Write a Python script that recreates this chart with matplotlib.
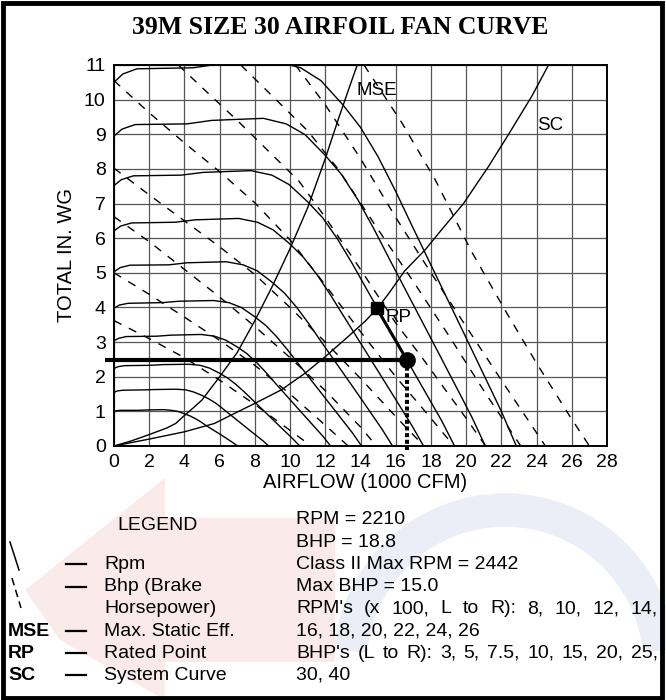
import matplotlib
matplotlib.use("Agg")
import matplotlib.pyplot as plt
from matplotlib.patches import Polygon, Rectangle, Arc
from matplotlib.lines import Line2D

W, H = 666, 700

# ---------------- data ----------------
x_ticks = list(range(0, 29, 2))
y_ticks = list(range(0, 12))

# fan curves (airflow in 1000 cfm, total pressure in. wg), one per rpm
q_2600 = [0, 0.5, 1.3, 4.5, 6.0, 9.2, 10.6, 11.75, 13.0, 14.0, 15.0, 16.0, 17.0, 20.0, 22.0, 22.85]
p_2600 = [10.5, 10.74, 10.89, 10.92, 11.03, 11.1, 10.92, 10.55, 9.85, 9.2, 8.35, 7.35, 6.28, 3.12, 1.0, 0]
q_2400 = [0, 0.46, 1.2, 4.15, 5.54, 8.49, 9.78, 10.85, 12.0, 12.92, 13.85, 14.77, 15.69, 18.46, 20.31, 21.09]
p_2400 = [8.95, 9.15, 9.28, 9.30, 9.40, 9.46, 9.30, 8.99, 8.39, 7.84, 7.11, 6.26, 5.35, 2.66, 0.85, 0]
q_2200 = [0, 0.42, 1.10, 3.81, 5.08, 7.78, 8.97, 9.94, 11.0, 11.85, 12.69, 13.54, 14.38, 16.92, 18.62, 19.34]
p_2200 = [7.52, 7.69, 7.80, 7.82, 7.90, 7.95, 7.82, 7.55, 7.05, 6.59, 5.98, 5.26, 4.50, 2.23, 0.72, 0]
q_2000 = [0, 0.38, 1.0, 3.46, 4.62, 7.08, 8.15, 9.04, 10.0, 10.77, 11.54, 12.31, 13.08, 15.38, 16.92, 17.58]
p_2000 = [6.21, 6.35, 6.44, 6.46, 6.53, 6.57, 6.46, 6.24, 5.83, 5.44, 4.94, 4.35, 3.72, 1.85, 0.59, 0]
q_1800 = [0, 0.35, 0.90, 3.12, 4.15, 6.37, 7.34, 8.13, 9.0, 9.69, 10.38, 11.08, 11.77, 13.85, 15.23, 15.82]
p_1800 = [5.03, 5.15, 5.22, 5.23, 5.29, 5.32, 5.23, 5.06, 4.72, 4.41, 4.00, 3.52, 3.01, 1.50, 0.48, 0]
q_1600 = [0, 0.31, 0.80, 2.77, 3.69, 5.66, 6.52, 7.23, 8.0, 8.62, 9.23, 9.85, 10.46, 12.31, 13.54, 14.06]
p_1600 = [3.98, 4.07, 4.12, 4.14, 4.18, 4.20, 4.14, 4.00, 3.73, 3.48, 3.16, 2.78, 2.38, 1.18, 0.38, 0]
q_1400 = [0, 0.27, 0.70, 2.42, 3.23, 4.95, 5.71, 6.33, 7.0, 7.54, 8.08, 8.62, 9.15, 10.77, 11.85, 12.30]
p_1400 = [3.04, 3.11, 3.16, 3.17, 3.20, 3.22, 3.17, 3.06, 2.86, 2.67, 2.42, 2.13, 1.82, 0.90, 0.29, 0]
q_1200 = [0, 0.23, 0.60, 2.08, 2.77, 4.25, 4.89, 5.42, 6.0, 6.46, 6.92, 7.38, 7.85, 9.23, 10.15, 10.55]
p_1200 = [2.24, 2.29, 2.32, 2.33, 2.35, 2.36, 2.33, 2.25, 2.10, 1.96, 1.78, 1.57, 1.34, 0.66, 0.21, 0]
q_1000 = [0, 0.19, 0.50, 1.73, 2.31, 3.54, 4.08, 4.52, 5.0, 5.38, 5.77, 6.15, 6.54, 7.69, 8.46, 8.79]
p_1000 = [1.55, 1.59, 1.61, 1.62, 1.63, 1.64, 1.62, 1.56, 1.46, 1.36, 1.24, 1.09, 0.93, 0.46, 0.15, 0]
q_800 = [0, 0.15, 0.40, 1.38, 1.85, 2.83, 3.26, 3.62, 4.0, 4.31, 4.62, 4.92, 5.23, 6.15, 6.77, 7.03]
p_800 = [0.99, 1.02, 1.03, 1.03, 1.04, 1.05, 1.03, 1.00, 0.93, 0.87, 0.79, 0.70, 0.59, 0.30, 0.09, 0]

# brake horsepower lines (dashed)
bhp_3_q = [0, 2, 4, 6, 8, 10, 11.2]
bhp_3_p = [3.62, 3.1, 2.55, 1.9, 1.2, 0.45, 0]
bhp_5_q = [0, 2, 4, 6, 8, 10, 12, 13.3]
bhp_5_p = [5.0, 4.38, 3.72, 3.05, 2.33, 1.5, 0.6, 0]
bhp_7_5_q = [0, 2, 4, 6, 8, 10, 12, 14, 14.9]
bhp_7_5_p = [6.62, 5.9, 5.1, 4.3, 3.45, 2.55, 1.6, 0.55, 0]
bhp_10_q = [0, 2, 4, 6, 8, 10, 12, 14, 16, 17.6]
bhp_10_p = [8.02, 7.25, 6.5, 5.75, 4.95, 4.0, 3.0, 1.95, 0.85, 0]
bhp_15_q = [0, 2, 4, 6, 8, 10, 12, 14, 16, 18, 19.3]
bhp_15_p = [10.55, 9.62, 8.75, 7.92, 7.02, 5.95, 4.65, 3.3, 2.0, 0.8, 0]
bhp_20_q = [3.65, 5, 7, 9, 10.5, 12, 14, 16, 17.4, 18.75, 20, 21.1]
bhp_20_p = [11.0, 10.35, 9.4, 8.4, 7.65, 6.6, 5.1, 3.55, 2.62, 1.67, 0.8, 0]
bhp_25_q = [7.2, 9, 11, 12.75, 14.8, 17, 19, 21, 23.1]
bhp_25_p = [11.0, 10.1, 9.1, 7.98, 6.4, 4.75, 3.2, 1.6, 0]
bhp_30_q = [10.3, 12, 14, 16, 18, 20, 22, 24.5]
bhp_30_p = [11.0, 9.85, 8.3, 6.6, 5.0, 3.45, 1.9, 0]
bhp_40_q = [14.2, 16.35, 18.24, 20.3, 22.2, 24.0, 25.9, 27.0]
bhp_40_p = [11.0, 9.33, 7.69, 5.62, 3.93, 2.39, 0.85, 0]

# maximum static efficiency line and system curve
mse_q = [0, 1, 2, 3, 3.5, 4, 4.5, 5, 6, 7, 8, 9, 10, 11, 12, 12.75, 13.5, 13.85]
mse_p = [0, 0.15, 0.33, 0.52, 0.65, 0.88, 1.1, 1.33, 2.0, 2.7, 3.62, 4.62, 5.7, 6.88, 8.3, 9.45, 10.55, 11.05]
sc_q = [0, 2, 4, 5.7, 7, 8, 9.5, 10.85, 12, 13.3, 14.3, 15, 15.6, 16.5, 17.7, 18.6, 19.85, 21.27, 22.4, 23.73, 24.68]
sc_p = [0, 0.2, 0.41, 0.65, 0.98, 1.23, 1.62, 2.1, 2.58, 3.16, 3.62, 4.0, 4.4, 5.05, 5.68, 6.24, 7.0, 8.07, 8.99, 10.1, 11.0]

# rated point and operating point
rp_q, rp_p = 14.92, 3.98
op_q, op_p = 16.63, 2.49

fan_curves = [(q_800, p_800), (q_1000, p_1000), (q_1200, p_1200), (q_1400, p_1400),
              (q_1600, p_1600), (q_1800, p_1800), (q_2000, p_2000), (q_2200, p_2200),
              (q_2400, p_2400), (q_2600, p_2600)]
bhp_lines = [(bhp_3_q, bhp_3_p), (bhp_5_q, bhp_5_p), (bhp_7_5_q, bhp_7_5_p),
             (bhp_10_q, bhp_10_p), (bhp_15_q, bhp_15_p), (bhp_20_q, bhp_20_p),
             (bhp_25_q, bhp_25_p), (bhp_30_q, bhp_30_p), (bhp_40_q, bhp_40_p)]

info_lines = ["RPM = 2210", "BHP = 18.8", "Class II Max RPM = 2442", "Max BHP = 15.0",
              "RPM's (x 100, L to R): 8, 10, 12, 14,", "16, 18, 20, 22, 24, 26",
              "BHP's (L to R): 3, 5, 7.5, 10, 15, 20, 25,", "30, 40"]
justified = [False, False, False, False, True, False, True, False]

SANS = "Liberation Sans"


def fx(px):
    return px / W


def fy(py):
    return 1 - py / H


fig = plt.figure(figsize=(W / 100, H / 100), dpi=100)

# faint watermark behind the legend
fig.patches.append(Polygon([(fx(25), fy(590)), (fx(165), fy(478)), (fx(165), fy(518)),
                            (fx(335), fy(518)), (fx(335), fy(662)), (fx(165), fy(662)),
                            (fx(165), fy(700)), (fx(60), fy(640))],
                           closed=True, transform=fig.transFigure,
                           facecolor="#fbeaea", edgecolor="none", zorder=0))
fig.patches.append(Arc((fx(505), fy(665)), fx(310), 310 / H, theta1=5, theta2=175,
                       transform=fig.transFigure, color="#eceef7", lw=24, zorder=0))

# outer frame
fig.patches.append(Rectangle((fx(3), fy(698)), fx(659), 695 / H, transform=fig.transFigure,
                             fill=False, edgecolor="black", lw=3.5, zorder=5))

fig.text(fx(340), fy(28), "39M SIZE 30 AIRFOIL FAN CURVE", ha="center", va="center",
         fontsize=18.5, fontweight="bold", family="Liberation Serif")

ax = fig.add_axes([fx(114), fy(446), fx(607) - fx(114), (446 - 65) / H])
ax.set_xlim(0, 28)
ax.set_ylim(0, 11)
ax.set_xticks(x_ticks)
ax.set_yticks(y_ticks)
ax.tick_params(length=0, labelsize=14, pad=6)
for lab in ax.get_xticklabels() + ax.get_yticklabels():
    lab.set_family(SANS)
ax.grid(True, color="#555555", lw=0.9)
ax.set_axisbelow(True)
for s in ax.spines.values():
    s.set_linewidth(1.4)

for q, p in fan_curves:
    ax.plot(q, p, color="black", lw=1.0)
for q, p in bhp_lines:
    ax.plot(q, p, color="black", lw=1.0, linestyle=(0, (6, 6)))
ax.plot(mse_q, mse_p, color="black", lw=1.0)
ax.plot(sc_q, sc_p, color="black", lw=1.0)

# operating point construction
ax.plot([-0.5, op_q], [op_p, op_p], color="black", lw=3.0, clip_on=False, solid_capstyle="butt")
ax.plot([rp_q, op_q], [rp_p, op_p], color="black", lw=2.2)
ax.plot([op_q, op_q], [op_p, -0.12], color="black", lw=2.9, linestyle=(0, (1.0, 0.65)),
        clip_on=False)
ax.plot([rp_q], [rp_p], marker="s", ms=9, color="black")
ax.plot([op_q], [op_p], marker="o", ms=11, color="black", clip_on=False)

ax.text(13.75, 10.25, "MSE", fontsize=13.5, family=SANS, va="center")
ax.text(24.05, 9.26, "SC", fontsize=13.5, family=SANS, va="center")
ax.text(15.4, 3.7, "RP", fontsize=13.5, family=SANS, va="center")

fig.text(fx(67), fy(255), "TOTAL IN. WG", rotation=90, ha="center", va="center",
         fontsize=14.5, family=SANS)
fig.text(fx(365), fy(482), "AIRFLOW (1000 CFM)", ha="center", va="center",
         fontsize=14.5, family=SANS)

# ---------------- legend ----------------
row0, step = 520, 22.2
fs = 14
fig.text(fx(117), fy(row0 + 6), "LEGEND", fontsize=fs, family=SANS, va="center")
fig.lines.append(Line2D([fx(10), fx(19)], [fy(542), fy(570)], transform=fig.transFigure,
                        color="black", lw=1.1))
fig.lines.append(Line2D([fx(12), fx(21)], [fy(578), fy(608)], transform=fig.transFigure,
                        color="black", lw=1.1, linestyle=(0, (5, 3))))
left_rows = [(2, "", "Rpm"), (3, "", "Bhp (Brake"), (4, None, "Horsepower)"),
             (5, "MSE", "Max. Static Eff."), (6, "RP", "Rated Point"), (7, "SC", "System Curve")]
for r, key, label in left_rows:
    yp = row0 + r * step
    if key is not None:
        fig.lines.append(Line2D([fx(66), fx(86)], [fy(yp), fy(yp)], transform=fig.transFigure,
                                color="black", lw=1.6))
        if key:
            fig.text(fx(8), fy(yp), key, fontsize=fs, family=SANS, fontweight="bold", va="center")
    fig.text(fx(104), fy(yp), label, fontsize=fs, family=SANS, va="center")

renderer = fig.canvas.get_renderer()
x_left, x_right = 296, 658
for i, (line, just) in enumerate(zip(info_lines, justified)):
    y = fy(row0 + i * step)
    if not just:
        fig.text(fx(x_left), y, line, fontsize=fs, family=SANS, va="center")
        continue
    words = line.split(" ")
    texts = [fig.text(0, y, w, fontsize=fs, family=SANS, va="center") for w in words]
    widths = [t.get_window_extent(renderer).width for t in texts]
    gap = (x_right - x_left - sum(widths)) / (len(words) - 1)
    xpos = x_left
    for t, w in zip(texts, widths):
        t.set_x(fx(xpos))
        xpos += w + gap

fig.savefig("out.png", dpi=100)
